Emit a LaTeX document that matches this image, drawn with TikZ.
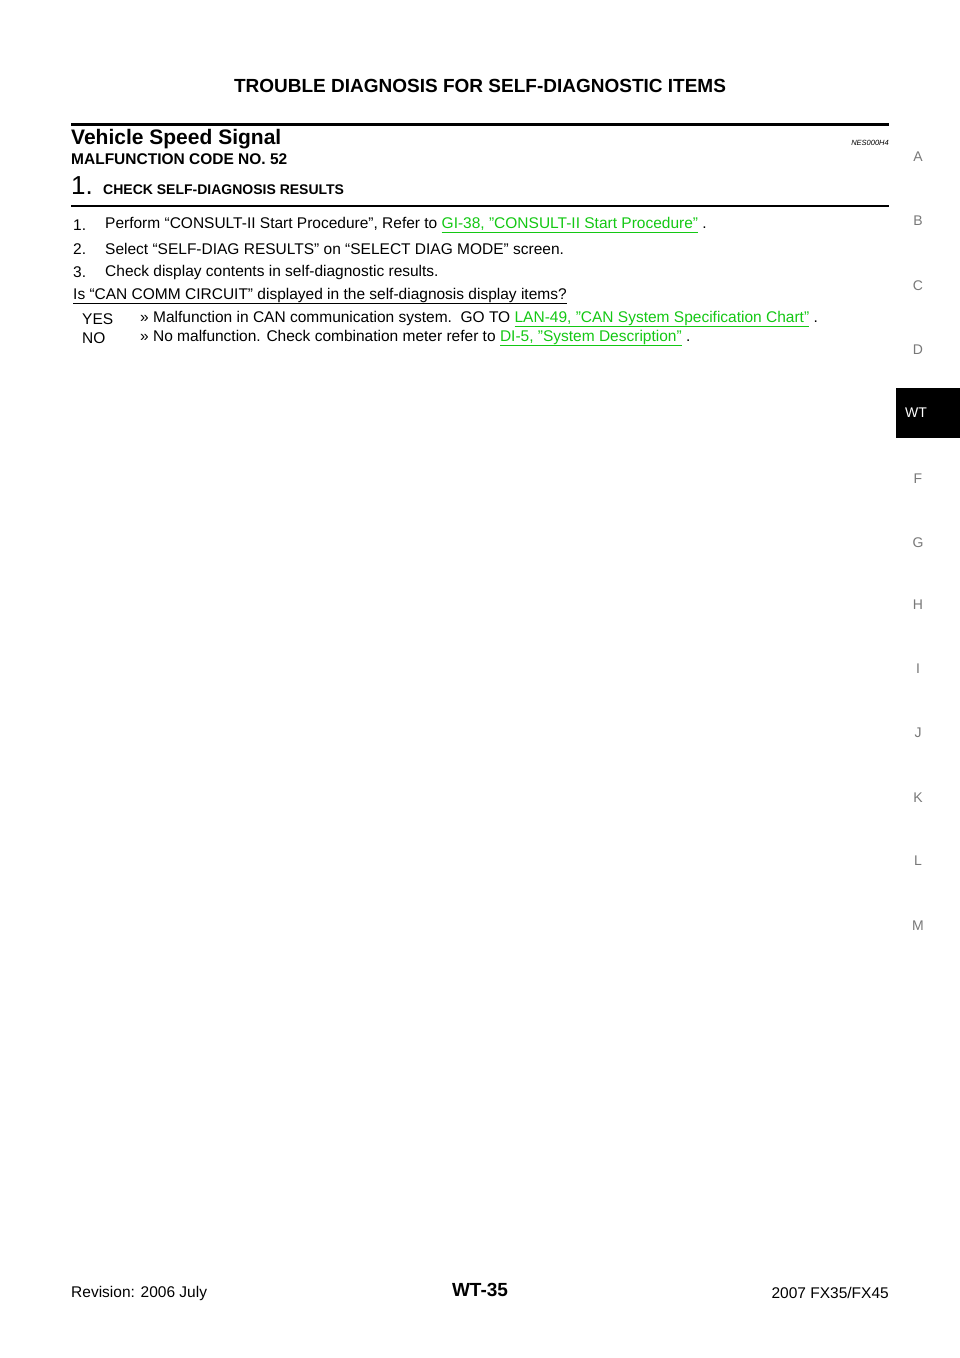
\documentclass[tikz,border=0pt]{standalone}
\usepackage{fontspec}
\setmainfont{Liberation Sans}
\usetikzlibrary{positioning}
\definecolor{linkgreen}{RGB}{20,200,20}
\definecolor{tabgray}{RGB}{120,120,120}
\newcommand{\lnk}[1]{{\color{linkgreen}\underline{#1}}}
\tikzset{
  txt/.style={inner sep=0pt, anchor=west, font={\fontsize{15.5}{18}\selectfont}},
  tabletter/.style={inner sep=0pt, text=tabgray, font={\fontsize{14}{16}\selectfont}},
}
\begin{document}
\begin{tikzpicture}[x=1pt,y=-1pt]
    \useasboundingbox[fill=white] (0,0) rectangle (960,1358);
    % header
    \node[inner sep=0pt, font={\fontsize{19}{22}\bfseries\selectfont}] (head) at (480,86) {TROUBLE DIAGNOSIS FOR SELF-DIAGNOSTIC ITEMS};
    \draw[line width=3pt] (71,124) -- (889,124);
    \node[txt, font={\fontsize{21}{24}\bfseries\selectfont}] (title) at (71,139) {Vehicle Speed Signal};
    \node[inner sep=0pt, anchor=east, font={\fontsize{7.5}{9}\itshape\selectfont}] (code) at (889,143) {NES000H4};
    \node[txt, font={\fontsize{15.5}{18}\bfseries\selectfont}] (malf) at (71,159) {MALFUNCTION CODE NO. 52};
    \node[txt, font={\fontsize{26}{28}\selectfont}] (stepno) at (71,186) {1.};
    \node[txt, font={\fontsize{14}{16}\bfseries\selectfont}] (steptitle) at (103,190) {CHECK SELF-DIAGNOSIS RESULTS};
    \draw[line width=1.5pt] (71,206) -- (889,206);
    % procedure
    \node[txt] (n1) at (73,225) {1.};
    \node[txt] (t1) at (105,225) {Perform “CONSULT-II Start Procedure”, Refer to \lnk{GI-38, "CONSULT-II Start Procedure"} .};
    \node[txt] (n2) at (73,249) {2.};
    \node[txt] (t2) at (105,249) {Select “SELF-DIAG RESULTS” on “SELECT DIAG MODE” screen.};
    \node[txt] (n3) at (73,272) {3.};
    \node[txt] (t3) at (105,272) {Check display contents in self-diagnostic results.};
    \node[txt] (ask) at (73,296) {\underline{Is “CAN COMM CIRCUIT” displayed in the self-diagnosis display items?}};
    \node[txt] (yes) at (82,319) {YES};
    \node[txt] (yesres) at (140,319) {>> Malfunction in CAN communication system.\ \ GO TO \lnk{LAN-49, "CAN System Specification Chart"} .};
    \node[txt] (no) at (82,338) {NO};
    \node[txt] (nores) at (140,338) {>> No malfunction. Check combination meter refer to \lnk{DI-5, "System Description"} .};
    % side tabs
    \fill[black] (896,388) rectangle (960,438);
    \node[inner sep=0pt, text=white, font={\fontsize{14}{16}\selectfont}] (tabwt) at (916,413) {WT};
    \foreach \l/\y in {A/157,B/221,C/286,D/350,F/479,G/543,H/605,I/669,J/733,K/798,L/861,M/926}
        \node[tabletter] (tab\l) at (918,\y) {\l};
    % footer
    \node[txt] (rev) at (71,1293) {Revision: 2006 July};
    \node[inner sep=0pt, font={\fontsize{19}{22}\bfseries\selectfont}] (page) at (480,1290) {WT-35};
    \node[txt, anchor=east] (model) at (889,1293) {2007 FX35/FX45};
\end{tikzpicture}
\end{document}
